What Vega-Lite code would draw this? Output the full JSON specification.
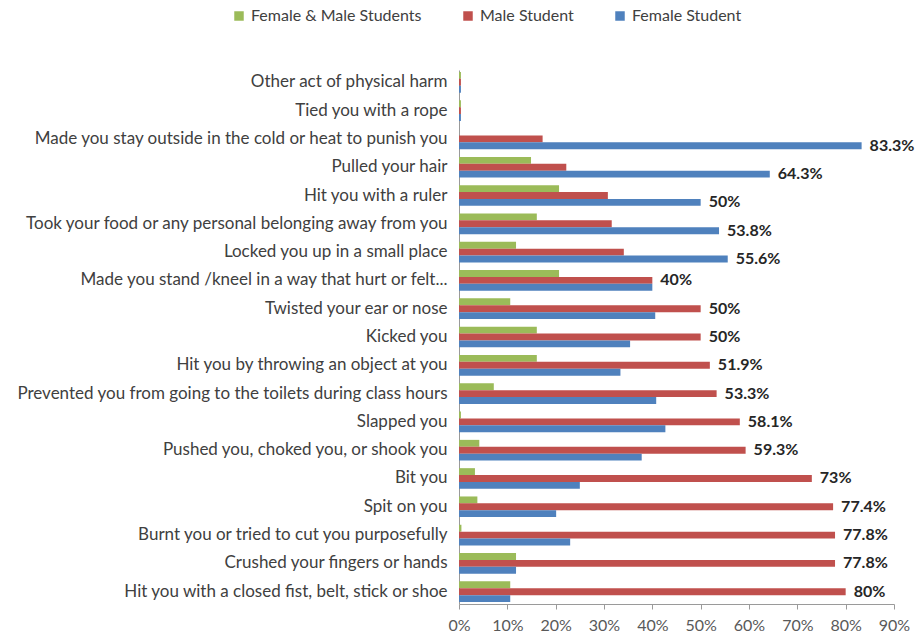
{
  "$schema": "https://vega.github.io/schema/vega-lite/v6.json",
  "width": 435,
  "height": 534,
  "autosize": {"type": "none"},
  "padding": {"left": 459, "top": 70, "right": 30, "bottom": 35},
  "background": "white",
  "config": {
    "font": "Lato",
    "view": {"stroke": null},
    "axis": {"labelFont": "Lato", "labelColor": "#404040", "domainColor": "#9a9a9a", "tickColor": "#9a9a9a"}
  },
  "data": {
    "values": [
      {"category": "Other act of physical harm", "series": "Female & Male Students", "value": 0.4},
      {"category": "Other act of physical harm", "series": "Male Student", "value": 0.4},
      {"category": "Other act of physical harm", "series": "Female Student", "value": 0.4},
      {"category": "Tied you with a rope", "series": "Female & Male Students", "value": 0.4},
      {"category": "Tied you with a rope", "series": "Male Student", "value": 0.4},
      {"category": "Tied you with a rope", "series": "Female Student", "value": 0.4},
      {"category": "Made you stay outside in the cold or heat to punish you", "series": "Female & Male Students", "value": 0},
      {"category": "Made you stay outside in the cold or heat to punish you", "series": "Male Student", "value": 17.3},
      {"category": "Made you stay outside in the cold or heat to punish you", "series": "Female Student", "value": 83.3, "label": "83.3%"},
      {"category": "Pulled your hair", "series": "Female & Male Students", "value": 14.9},
      {"category": "Pulled your hair", "series": "Male Student", "value": 22.2},
      {"category": "Pulled your hair", "series": "Female Student", "value": 64.3, "label": "64.3%"},
      {"category": "Hit you with a ruler", "series": "Female & Male Students", "value": 20.7},
      {"category": "Hit you with a ruler", "series": "Male Student", "value": 30.8},
      {"category": "Hit you with a ruler", "series": "Female Student", "value": 50, "label": "50%"},
      {"category": "Took your food or any personal belonging away from you", "series": "Female & Male Students", "value": 16.1},
      {"category": "Took your food or any personal belonging away from you", "series": "Male Student", "value": 31.6},
      {"category": "Took your food or any personal belonging away from you", "series": "Female Student", "value": 53.8, "label": "53.8%"},
      {"category": "Locked you up in a small place", "series": "Female & Male Students", "value": 11.8},
      {"category": "Locked you up in a small place", "series": "Male Student", "value": 34.1},
      {"category": "Locked you up in a small place", "series": "Female Student", "value": 55.6, "label": "55.6%"},
      {"category": "Made you stand /kneel in a way that hurt or felt...", "series": "Female & Male Students", "value": 20.7},
      {"category": "Made you stand /kneel in a way that hurt or felt...", "series": "Male Student", "value": 40, "label": "40%"},
      {"category": "Made you stand /kneel in a way that hurt or felt...", "series": "Female Student", "value": 40},
      {"category": "Twisted your ear or nose", "series": "Female & Male Students", "value": 10.6},
      {"category": "Twisted your ear or nose", "series": "Male Student", "value": 50, "label": "50%"},
      {"category": "Twisted your ear or nose", "series": "Female Student", "value": 40.6},
      {"category": "Kicked you", "series": "Female & Male Students", "value": 16.1},
      {"category": "Kicked you", "series": "Male Student", "value": 50, "label": "50%"},
      {"category": "Kicked you", "series": "Female Student", "value": 35.4},
      {"category": "Hit you by throwing an object at you", "series": "Female & Male Students", "value": 16.1},
      {"category": "Hit you by throwing an object at you", "series": "Male Student", "value": 51.9, "label": "51.9%"},
      {"category": "Hit you by throwing an object at you", "series": "Female Student", "value": 33.4},
      {"category": "Prevented you from going to the toilets during class hours", "series": "Female & Male Students", "value": 7.2},
      {"category": "Prevented you from going to the toilets during class hours", "series": "Male Student", "value": 53.3, "label": "53.3%"},
      {"category": "Prevented you from going to the toilets during class hours", "series": "Female Student", "value": 40.8},
      {"category": "Slapped you", "series": "Female & Male Students", "value": 0.4},
      {"category": "Slapped you", "series": "Male Student", "value": 58.1, "label": "58.1%"},
      {"category": "Slapped you", "series": "Female Student", "value": 42.7},
      {"category": "Pushed you, choked you, or shook you", "series": "Female & Male Students", "value": 4.2},
      {"category": "Pushed you, choked you, or shook you", "series": "Male Student", "value": 59.3, "label": "59.3%"},
      {"category": "Pushed you, choked you, or shook you", "series": "Female Student", "value": 37.8},
      {"category": "Bit you", "series": "Female & Male Students", "value": 3.3},
      {"category": "Bit you", "series": "Male Student", "value": 73, "label": "73%"},
      {"category": "Bit you", "series": "Female Student", "value": 25},
      {"category": "Spit on you", "series": "Female & Male Students", "value": 3.8},
      {"category": "Spit on you", "series": "Male Student", "value": 77.4, "label": "77.4%"},
      {"category": "Spit on you", "series": "Female Student", "value": 20.1},
      {"category": "Burnt you or tried to cut you purposefully", "series": "Female & Male Students", "value": 0.5},
      {"category": "Burnt you or tried to cut you purposefully", "series": "Male Student", "value": 77.8, "label": "77.8%"},
      {"category": "Burnt you or tried to cut you purposefully", "series": "Female Student", "value": 23},
      {"category": "Crushed your fingers or hands", "series": "Female & Male Students", "value": 11.8},
      {"category": "Crushed your fingers or hands", "series": "Male Student", "value": 77.8, "label": "77.8%"},
      {"category": "Crushed your fingers or hands", "series": "Female Student", "value": 11.8},
      {"category": "Hit you with a closed fist, belt, stick or shoe", "series": "Female & Male Students", "value": 10.6},
      {"category": "Hit you with a closed fist, belt, stick or shoe", "series": "Male Student", "value": 80, "label": "80%"},
      {"category": "Hit you with a closed fist, belt, stick or shoe", "series": "Female Student", "value": 10.6}
    ]
  },
  "encoding": {
    "y": {
      "field": "category",
      "type": "nominal",
      "sort": null,
      "scale": {"paddingInner": 0.27, "paddingOuter": 0.07},
      "axis": {"title": null, "ticks": false, "labelFontSize": 17, "labelPadding": 12, "labelLimit": 460, "labelColor": "#404040"}
    },
    "yOffset": {
      "field": "series",
      "type": "nominal",
      "sort": ["Female & Male Students", "Male Student", "Female Student"]
    },
    "x": {
      "field": "value",
      "type": "quantitative",
      "scale": {"domain": [0, 90], "nice": false},
      "axis": {"title": null, "grid": false, "values": [0, 10, 20, 30, 40, 50, 60, 70, 80, 90], "labelExpr": "datum.value + '%'", "labelFlush": false, "labelOverlap": false, "labelBound": false, "labelFontSize": 16, "labelColor": "#595959", "tickSize": 5, "labelPadding": 8}
    }
  },
  "layer": [
    {
      "mark": {"type": "bar", "stroke": null},
      "encoding": {
        "color": {
          "field": "series",
          "type": "nominal",
          "scale": {"domain": ["Female & Male Students", "Male Student", "Female Student"], "range": ["#9BBB59", "#C0504D", "#4F81BD"]},
          "legend": {
            "title": null,
            "orient": "none",
            "direction": "horizontal",
            "legendX": -228,
            "legendY": -62,
            "symbolType": "square",
            "symbolSize": 90,
            "symbolStrokeWidth": 0,
            "labelFont": "Lato",
            "labelFontSize": 16,
            "labelLimit": 300,
            "labelColor": "#404040",
            "columnPadding": 38,
            "labelOffset": 4
          }
        }
      }
    },
    {
      "transform": [{"filter": "datum.label != null"}],
      "mark": {"type": "text", "align": "left", "baseline": "middle", "dx": 8, "fontWeight": "bold", "fontSize": 16, "color": "#262626", "font": "Lato"},
      "encoding": {"text": {"field": "label"}}
    }
  ]
}
